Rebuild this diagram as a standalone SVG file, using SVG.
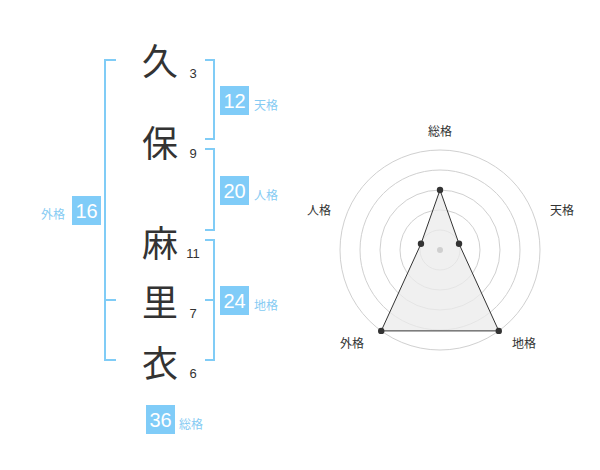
<svg xmlns="http://www.w3.org/2000/svg" width="600" height="470" viewBox="0 0 600 470">
<style>
.k{font-family:"Noto Sans CJK JP",sans-serif;font-size:36px;fill:#333;text-anchor:middle;dominant-baseline:central}
.n{font-family:"Liberation Sans",Arial,sans-serif;font-size:13px;fill:#333;text-anchor:middle;dominant-baseline:central}
.br{fill:none;stroke:#80ccf6;stroke-width:2}
.bx{fill:#80ccf8}
.bn{font-family:"Liberation Sans",Arial,sans-serif;font-size:20px;fill:#fff;text-anchor:middle;dominant-baseline:central}
.bl{font-family:"Noto Sans CJK JP",sans-serif;font-size:12px;fill:#86cbf3;dominant-baseline:central}
.ring{fill:none;stroke:#d0d0d0;stroke-width:1}
.rl{font-family:"Noto Sans CJK JP",sans-serif;font-size:12px;fill:#333;text-anchor:middle;dominant-baseline:central}
.pt{fill:#333}
</style>
<g id="connectors">
<path class="br" d="M116,60 H105 V360 H116 M105,300 H116"/>
<path class="br" d="M205,60 H214 V139 H205"/>
<path class="br" d="M205,149 H214 V230 H205"/>
<path class="br" d="M205,240 H214 V360 H205 M205,300 H214"/>
</g>
<g id="char1"><text class="k" x="160" y="59">久</text><text class="n" x="193" y="73">3</text></g>
<g id="char2"><text class="k" x="160" y="141">保</text><text class="n" x="193" y="153">9</text></g>
<g id="char3"><text class="k" x="160" y="241">麻</text><text class="n" x="193" y="253">11</text></g>
<g id="char4"><text class="k" x="160" y="300">里</text><text class="n" x="193" y="313">7</text></g>
<g id="char5"><text class="k" x="160" y="361">衣</text><text class="n" x="193" y="373">6</text></g>
<g id="tenkaku"><rect class="bx" x="220" y="86" width="29" height="29"/><text class="bn" x="234.5" y="101">12</text><text class="bl" x="254" y="104">天格</text></g>
<g id="jinkaku"><rect class="bx" x="220" y="176" width="29" height="29"/><text class="bn" x="234.5" y="191">20</text><text class="bl" x="254" y="194">人格</text></g>
<g id="chikaku"><rect class="bx" x="220" y="286" width="29" height="29"/><text class="bn" x="234.5" y="301">24</text><text class="bl" x="254" y="304">地格</text></g>
<g id="gaikaku"><rect class="bx" x="72" y="196" width="29" height="29"/><text class="bn" x="86.5" y="211">16</text><text class="bl" x="41" y="213">外格</text></g>
<g id="soukaku"><rect class="bx" x="146" y="405" width="29" height="29"/><text class="bn" x="160.5" y="420">36</text><text class="bl" x="179" y="423">総格</text></g>
<g id="radar">
<circle class="ring" cx="440" cy="250" r="20"/>
<circle class="ring" cx="440" cy="250" r="40"/>
<circle class="ring" cx="440" cy="250" r="60"/>
<circle class="ring" cx="440" cy="250" r="80"/>
<circle class="ring" cx="440" cy="250" r="100"/>
<polygon points="440,190 459.02,243.82 498.78,330.9 381.22,330.9 420.98,243.82" fill="#ebebeb" fill-opacity="0.75" stroke="#333" stroke-width="1"/>
<circle cx="440" cy="250" r="3" fill="#cfcfcf"/>
<circle class="pt" cx="440" cy="190" r="3.2"/>
<circle class="pt" cx="459.02" cy="243.82" r="3.2"/>
<circle class="pt" cx="498.78" cy="330.9" r="3.2"/>
<circle class="pt" cx="381.22" cy="330.9" r="3.2"/>
<circle class="pt" cx="420.98" cy="243.82" r="3.2"/>
<text class="rl" x="440" y="130">総格</text>
<text class="rl" x="562" y="209">天格</text>
<text class="rl" x="319" y="209">人格</text>
<text class="rl" x="352" y="342">外格</text>
<text class="rl" x="524" y="342">地格</text>
</g>
</svg>
